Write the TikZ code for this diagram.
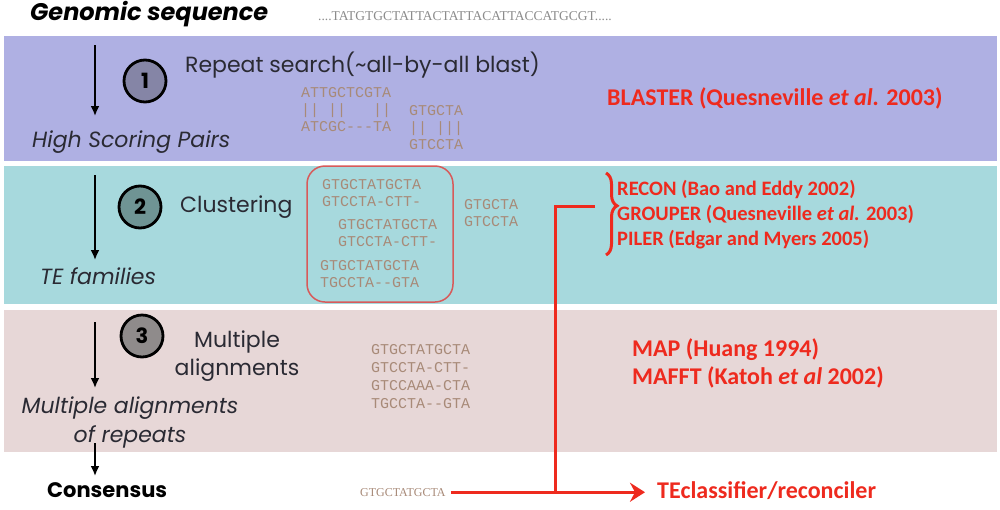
\documentclass[tikz,border=0pt]{standalone}
\usepackage{fontspec}
\usetikzlibrary{arrows.meta,decorations.pathreplacing}
\newfontfamily\gothic{Poppins}
\newfontfamily\calib{Carlito}
\newfontfamily\seqmono{Liberation Mono}
\newfontfamily\seqserif{Liberation Serif}

\definecolor{bandA}{HTML}{AFB0E3}
\definecolor{bandB}{HTML}{A7D9DD}
\definecolor{bandC}{HTML}{E7D7D7}
\definecolor{circA}{HTML}{8585A6}
\definecolor{circB}{HTML}{6F9494}
\definecolor{circC}{HTML}{8F8B8B}
\definecolor{labelgray}{HTML}{2A2A33}
\definecolor{seqbrown}{HTML}{A88A78}
\definecolor{seqgray}{HTML}{8C8C8C}
\definecolor{toolred}{HTML}{EE2A1E}
\definecolor{boxred}{HTML}{D85A5A}

\begin{document}
\begin{tikzpicture}[x=1pt,y=-1pt,
  stepnum/.style={circle, draw=black, line width=2.8pt, minimum size=42pt,
    inner sep=0pt, font=\gothic\bfseries\fontsize{21}{21}\selectfont},
  steplabel/.style={anchor=mid west, inner sep=0pt, text=labelgray,
    font=\gothic\fontsize{22}{28}\selectfont},
  result/.style={anchor=mid west, inner sep=0pt, text=labelgray,
    font=\gothic\itshape\fontsize{22}{29}\selectfont},
  headline/.style={anchor=mid west, inner sep=0pt, text=black,
    font=\gothic\bfseries\itshape\fontsize{24}{26}\selectfont},
  seq/.style={anchor=north west, inner sep=0pt, align=left, text=seqbrown,
    font=\seqmono\fontsize{15}{17}\selectfont},
  tool/.style={anchor=mid west, inner sep=0pt, text=toolred,
    font=\calib\bfseries\fontsize{20.5}{25}\selectfont},
  bigtool/.style={tool, font=\calib\bfseries\fontsize{24}{28}\selectfont},
  flow/.style={-{Latex[length=10pt,width=9pt]}, line width=1.9pt},
  redline/.style={draw=toolred, line width=3pt},
]
\useasboundingbox (0,0) rectangle (1000,509);
\fill[white] (0,0) rectangle (1000,509);

% coloured bands, one per step
\fill[bandA] (4,36) rectangle (997,161);
\fill[bandB] (4,166) rectangle (997,304);
\fill[bandC] (4,310) rectangle (997,452);

% input
\node[headline] (genomic) at (30,18) {Genomic sequence};
\node[anchor=mid west, inner sep=0pt, text=seqgray,
  font=\seqserif\fontsize{13.5}{14}\selectfont] (gseq) at (318,18)
  {....TATGTGCTATTACTATTACATTACCATGCGT.....};

% step 1: repeat search
\node[stepnum, fill=circA] (s1) at (145,81) {1};
\node[steplabel] (t1) at (185,70) {Repeat search(\textasciitilde all-by-all blast)};
\node[result] (hsp) at (32,145) {High Scoring Pairs};
\coordinate (a1top) at (95,45);
\coordinate (a1bot) at (95,116);
\draw[flow] (a1top) -- (a1bot);
\node[seq] (hspA) at (301,87) {ATTGCTCGTA\\|| ||\hphantom{AAA}||\\ATCGC-{}-{}-TA};
\node[seq] (hspB) at (409,105) {GTGCTA\\|| |||\\GTCCTA};
\node[bigtool] (blaster) at (607,103) {BLASTER (Quesneville \textit{et al.} 2003)};

% step 2: clustering
\node[stepnum, fill=circB] (s2) at (140,207) {2};
\node[steplabel] (t2) at (180,210) {Clustering};
\node[result] (tefam) at (40,282) {TE families};
\coordinate (a2top) at (95,175);
\coordinate (a2bot) at (95,260);
\draw[flow] (a2top) -- (a2bot);
\node[draw=boxred, line width=1.5pt, rounded corners=18pt,
  minimum width=146pt, minimum height=136pt] (cluster) at (380,234) {};
\node[seq] (c1) at (322,179) {GTGCTATGCTA\\GTCCTA-CTT-};
\node[seq] (c2) at (338,219) {GTGCTATGCTA\\GTCCTA-CTT-};
\node[seq] (c3) at (320,260) {GTGCTATGCTA\\TGCCTA-{}-GTA};
\node[seq] (c4) at (464,199) {GTGCTA\\GTCCTA};
\draw[redline, decorate, decoration={brace, amplitude=11pt, aspect=0.4}]
  (606,173) -- (606,255);
\coordinate (btip) at (595,206);
\node[tool] (recon) at (617,193) {RECON (Bao and Eddy 2002)};
\node[tool] (grouper) at (617,218) {GROUPER (Quesneville \textit{et al.} 2003)};
\node[tool] (piler) at (617,243) {PILER (Edgar and Myers 2005)};

% step 3: multiple alignments
\node[stepnum, fill=circC] (s3) at (142,336) {3};
\node[steplabel, anchor=center, align=center] (t3) at (237,356) {Multiple\\alignments};
\node[result, align=center, anchor=center] (mult) at (130,422)
  {Multiple alignments\\of repeats};
\coordinate (a3top) at (95,322);
\coordinate (a3bot) at (95,388);
\draw[flow] (a3top) -- (a3bot);
\node[seq, font=\seqmono\fontsize{15}{18}\selectfont] (malign) at (371,344)
  {GTGCTATGCTA\\GTCCTA-CTT-\\GTCCAAA-CTA\\TGCCTA-{}-GTA};
\node[bigtool] (map) at (632,354) {MAP (Huang 1994)};
\node[bigtool] (mafft) at (632,382) {MAFFT (Katoh \textit{et al} 2002)};

% consensus and classification
\coordinate (a4top) at (95,443);
\coordinate (a4bot) at (95,476);
\draw[flow] (a4top) -- (a4bot);
\node[headline, font=\gothic\bfseries\fontsize{21}{24}\selectfont] (consensus) at (47,495) {Consensus};
\node[anchor=mid west, inner sep=0pt, text=seqbrown,
  font=\seqserif\fontsize{12}{13}\selectfont] (cseq) at (360,494) {GTGCTATGCTA};
\node[bigtool] (tecl) at (657,496) {TEclassifier/reconciler};
\coordinate (joinx) at (555,300);
\draw[redline, -{Stealth[length=15pt,width=19pt,inset=5pt]}, shorten <=5pt, shorten >=12pt]
  (cseq.east) -- (cseq.east -| tecl.west);
\draw[redline] (btip) -| (joinx |- cseq.east);
\end{tikzpicture}
\end{document}
